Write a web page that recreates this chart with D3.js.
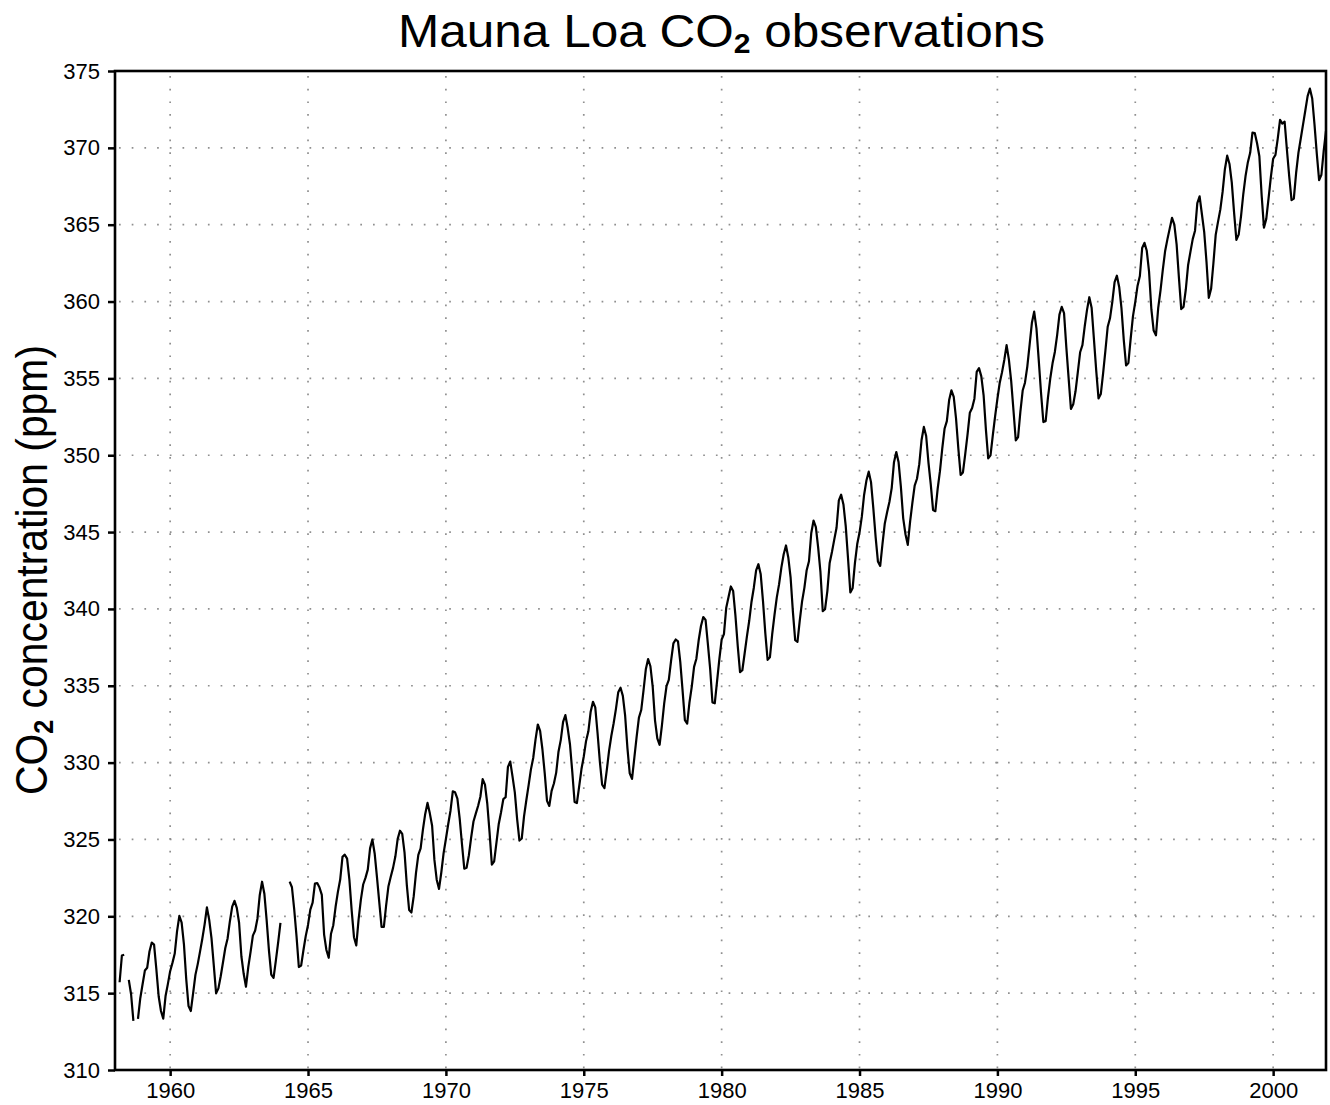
<!DOCTYPE html>
<html>
<head>
<meta charset="utf-8">
<script src="https://cdn.jsdelivr.net/npm/d3@7"></script>
<style>
  body { margin: 0; background: #fff; }
  text { font-family: "Liberation Sans", "DejaVu Sans", sans-serif; fill: #000; }
</style>
</head>
<body>
<svg id="chart" width="1330" height="1105"></svg>
<script>
// monthly means (ppm), Jan..Dec, null = missing month
const co2_1958 = [null, null, 315.71, 317.45, 317.50, null, 315.86, 314.93, 313.20, null, 313.33, 314.67,
  315.58, 316.47, 316.65, 317.71, 318.29, 318.16, 316.55, 314.80, 313.84, 313.34, 314.81, 315.59];

const co2_1960s = [
  316.43, 316.97, 317.58, 319.02, 320.03, 319.59, 318.18, 315.91, 314.16, 313.84, 315.00, 316.19,
  316.89, 317.70, 318.54, 319.48, 320.58, 319.77, 318.57, 316.79, 314.99, 315.31, 316.10, 317.01,
  317.94, 318.56, 319.68, 320.63, 321.01, 320.55, 319.58, 317.40, 316.26, 315.42, 316.69, 317.69,
  318.74, 319.08, 319.86, 321.39, 322.25, 321.47, 319.74, 317.77, 316.21, 315.99, 317.12, 318.31,
  319.57, null, null, null, 322.26, 321.89, 320.44, 318.70, 316.70, 316.79, 317.79, 318.71,
  319.44, 320.44, 320.89, 322.13, 322.16, 321.87, 321.39, 318.81, 317.81, 317.30, 318.87, 319.42,
  320.62, 321.59, 322.39, 323.87, 324.01, 323.75, 322.39, 320.37, 318.64, 318.10, 319.79, 321.08,
  322.07, 322.50, 323.04, 324.42, 325.00, 324.09, 322.55, 320.92, 319.31, 319.31, 320.72, 321.96,
  322.57, 323.15, 323.89, 325.02, 325.57, 325.36, 324.14, 322.03, 320.41, 320.25, 321.31, 322.84,
  324.00, 324.42, 325.64, 326.66, 327.38, 326.70, 325.89, 323.67, 322.38, 321.78, 322.85, 324.11
];

const co2_1970s = [
  325.03, 325.99, 326.87, 328.13, 328.07, 327.66, 326.35, 324.69, 323.10, 323.16, 323.98, 325.13,
  326.17, 326.68, 327.18, 327.78, 328.92, 328.57, 327.34, 325.46, 323.36, 323.57, 324.80, 326.01,
  326.77, 327.63, 327.75, 329.72, 330.07, 329.09, 328.05, 326.32, 324.93, 325.06, 326.50, 327.55,
  328.54, 329.56, 330.30, 331.50, 332.48, 332.07, 330.87, 329.31, 327.51, 327.18, 328.16, 328.64,
  329.35, 330.71, 331.48, 332.65, 333.09, 332.25, 331.18, 329.40, 327.44, 327.37, 328.46, 329.58,
  330.40, 331.41, 332.04, 333.31, 333.96, 333.59, 331.91, 330.06, 328.56, 328.34, 329.49, 330.76,
  331.75, 332.56, 333.50, 334.58, 334.87, 334.34, 333.05, 330.94, 329.30, 328.94, 330.31, 331.68,
  332.93, 333.42, 334.70, 336.07, 336.74, 336.27, 334.93, 332.75, 331.58, 331.16, 332.40, 333.85,
  334.97, 335.39, 336.64, 337.76, 338.01, 337.89, 336.54, 334.68, 332.76, 332.54, 333.92, 334.95,
  336.23, 336.76, 337.96, 338.89, 339.47, 339.29, 337.73, 336.09, 333.91, 333.86, 335.29, 336.73
];

const co2_1980s = [
  338.01, 338.36, 340.08, 340.77, 341.46, 341.17, 339.56, 337.60, 335.88, 336.01, 337.10, 338.21,
  339.23, 340.47, 341.38, 342.51, 342.91, 342.25, 340.49, 338.43, 336.69, 336.85, 338.36, 339.61,
  340.75, 341.61, 342.70, 343.56, 344.13, 343.35, 342.06, 339.82, 337.97, 337.86, 339.26, 340.49,
  341.37, 342.52, 343.10, 344.94, 345.75, 345.32, 343.99, 342.39, 339.86, 339.99, 341.16, 342.99,
  343.70, 344.51, 345.28, 347.06, 347.43, 346.80, 345.39, 343.28, 341.07, 341.35, 342.98, 344.22,
  344.97, 346.00, 347.43, 348.35, 348.93, 348.25, 346.56, 344.69, 343.09, 342.80, 344.24, 345.56,
  346.29, 346.96, 347.86, 349.55, 350.21, 349.54, 347.94, 345.91, 344.86, 344.17, 345.66, 346.90,
  348.02, 348.47, 349.42, 350.99, 351.84, 351.25, 349.52, 348.10, 346.44, 346.36, 347.81, 348.96,
  350.43, 351.72, 352.22, 353.59, 354.22, 353.79, 352.39, 350.44, 348.72, 348.88, 350.07, 351.34,
  352.76, 353.07, 353.68, 355.42, 355.67, 355.13, 353.90, 351.67, 349.80, 349.99, 351.30, 352.53
];

const co2_1990s = [
  353.66, 354.70, 355.39, 356.20, 357.16, 356.22, 354.82, 352.91, 350.96, 351.18, 352.83, 354.21,
  354.72, 355.75, 357.16, 358.60, 359.34, 358.24, 356.17, 354.03, 352.16, 352.21, 353.75, 354.99,
  355.98, 356.72, 357.81, 359.15, 359.66, 359.25, 357.02, 355.00, 353.01, 353.31, 354.16, 355.40,
  356.70, 357.16, 358.38, 359.46, 360.28, 359.60, 357.57, 355.52, 353.70, 353.98, 355.33, 356.80,
  358.36, 358.91, 359.97, 361.26, 361.68, 360.95, 359.55, 357.49, 355.84, 356.00, 357.59, 359.05,
  359.98, 361.03, 361.66, 363.48, 363.82, 363.30, 361.94, 359.50, 358.11, 357.80, 359.61, 360.74,
  362.09, 363.29, 364.06, 364.76, 365.45, 365.01, 363.70, 361.54, 359.51, 359.65, 360.80, 362.38,
  363.23, 364.06, 364.61, 366.40, 366.84, 365.68, 364.52, 362.57, 360.24, 360.83, 362.49, 364.34,
  365.18, 365.98, 367.13, 368.61, 369.49, 368.95, 367.74, 365.79, 364.01, 364.35, 365.52, 366.98,
  368.18, 369.07, 369.68, 370.99, 370.96, 370.30, 369.45, 366.90, 364.81, 365.37, 366.72, 368.10
];

const co2_2000s = [
  369.29, 369.54, 370.60, 371.82, 371.58, 371.70, 369.86, 368.13, 366.60, 366.70, 368.37, 369.67,
  370.59, 371.51, 372.43, 373.37, 373.85, 373.21, 371.51, 369.61, 367.90, 368.25, 369.80, 371.10
];

const seriesStarts = [1958, 1960, 1970, 1980, 1990, 2000];
const seriesValues = [co2_1958, co2_1960s, co2_1970s, co2_1980s, co2_1990s, co2_2000s];

const yTicks = [310, 315, 320, 325, 330, 335, 340, 345, 350, 355, 360, 365, 370, 375];
const xTicks = [1960, 1965, 1970, 1975, 1980, 1985, 1990, 1995, 2000];

const plotLeft = 115, plotRight = 1326, plotTop = 71, plotBottom = 1070;

const svg = d3.select("#chart");

const x = d3.scaleLinear().domain([1958, 2001 + 11 / 12]).range([plotLeft, plotRight]);
const y = d3.scaleLinear().domain([310, 375]).range([plotBottom, plotTop]);

// flatten the decade arrays into (time, value) points
const points = [];
seriesValues.forEach((vals, k) => {
    vals.forEach((v, i) => points.push({ t: seriesStarts[k] + i / 12, v: v }));
});

// dotted grid
const grid = svg.append("g").attr("class", "grid")
    .attr("stroke", "#8f8f8f")
    .attr("stroke-width", 1.7)
    .attr("stroke-dasharray", "1.7,11");

grid.selectAll(".hgrid")
    .data(yTicks.filter(d => d > 310 && d < 375))
    .join("line")
    .attr("x1", plotLeft + 4).attr("x2", plotRight)
    .attr("y1", d => y(d)).attr("y2", d => y(d));

grid.selectAll(".vgrid")
    .data(xTicks)
    .join("line")
    .attr("x1", d => x(d)).attr("x2", d => x(d))
    .attr("y1", plotTop + 5).attr("y2", plotBottom);

// data line, broken at missing months
const line = d3.line()
    .defined(d => d.v !== null)
    .x(d => x(d.t))
    .y(d => y(d.v));

svg.append("path")
    .datum(points)
    .attr("fill", "none")
    .attr("stroke", "#000")
    .attr("stroke-width", 2.2)
    .attr("stroke-linejoin", "round")
    .attr("d", line);

// axes
const yAxis = svg.append("g")
    .attr("transform", `translate(${plotLeft},0)`)
    .call(d3.axisLeft(y).tickValues(yTicks).tickSize(7).tickPadding(8).tickFormat(d3.format("d")));

const xAxis = svg.append("g")
    .attr("transform", `translate(0,${plotBottom})`)
    .call(d3.axisBottom(x).tickValues(xTicks).tickSize(6).tickPadding(6).tickFormat(d3.format("d")));

[yAxis, xAxis].forEach(a => {
    a.select(".domain").remove();
    a.selectAll(".tick line").attr("stroke", "#000").attr("stroke-width", 2.5);
    a.selectAll(".tick text")
        .style("font-family", '"Liberation Sans", sans-serif')
        .style("font-size", "22px")
        .attr("fill", "#000");
});

// frame
svg.append("rect")
    .attr("x", plotLeft).attr("y", plotTop)
    .attr("width", plotRight - plotLeft).attr("height", plotBottom - plotTop)
    .attr("fill", "none")
    .attr("stroke", "#000")
    .attr("stroke-width", 2.6);

// title
const title = svg.append("text")
    .attr("x", 398).attr("y", 47)
    .attr("textLength", 647)
    .attr("lengthAdjust", "spacingAndGlyphs")
    .style("font-size", "46px");
title.append("tspan").text("Mauna Loa CO");
title.append("tspan").attr("dy", 6).style("font-size", "28px").style("font-weight", "bold").text("2");
title.append("tspan").attr("dy", -6).text(" observations");

// y label
const ylab = svg.append("text")
    .attr("transform", "translate(47,795) rotate(-90)")
    .attr("textLength", 450)
    .attr("lengthAdjust", "spacingAndGlyphs")
    .style("font-size", "44px");
ylab.append("tspan").text("CO");
ylab.append("tspan").attr("dy", 6).style("font-size", "27px").style("font-weight", "bold").text("2");
ylab.append("tspan").attr("dy", -6).text(" concentration (ppm)");
</script>
</body>
</html>
